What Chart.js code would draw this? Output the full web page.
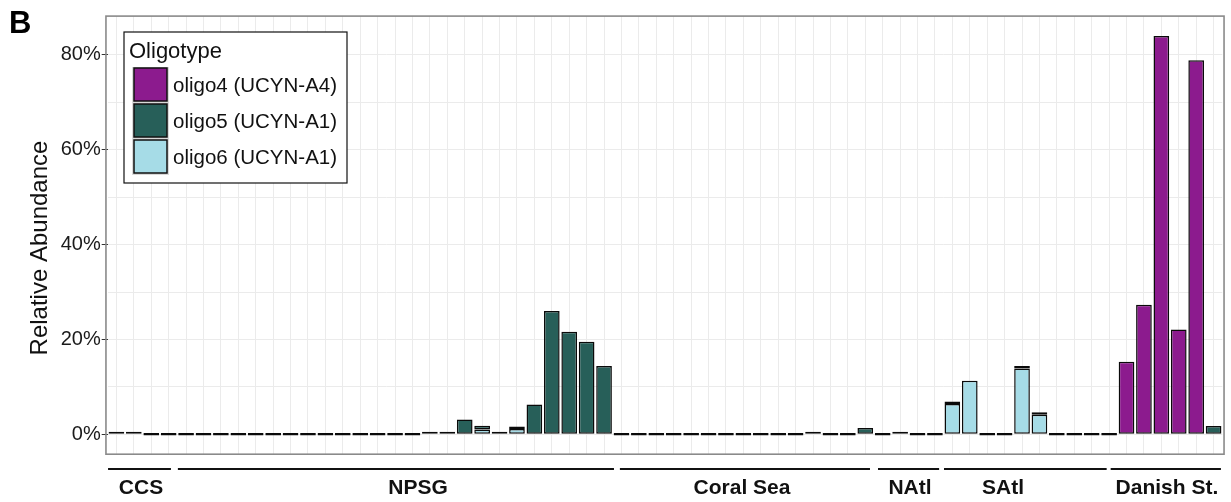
<!DOCTYPE html>
<html>
<head>
<meta charset="utf-8">
<script src="https://cdn.jsdelivr.net/npm/chart.js@4.4.1/dist/chart.umd.min.js"></script>
<style>
  html, body { margin: 0; padding: 0; background: #ffffff; }
  #wrap { width: 1231px; height: 502px; position: relative; }
</style>
</head>
<body>
<div id="wrap"><canvas id="c" width="1231" height="502"></canvas></div>
<script>
// ---------- DATA ----------
const categories = [
  'CCS-1','CCS-2','CCS-3','CCS-4',
  'NPSG-1','NPSG-2','NPSG-3','NPSG-4','NPSG-5','NPSG-6','NPSG-7','NPSG-8','NPSG-9','NPSG-10',
  'NPSG-11','NPSG-12','NPSG-13','NPSG-14','NPSG-15','NPSG-16','NPSG-17','NPSG-18','NPSG-19','NPSG-20',
  'NPSG-21','NPSG-22','NPSG-23','NPSG-24','NPSG-25',
  'CS-1','CS-2','CS-3','CS-4','CS-5','CS-6','CS-7','CS-8','CS-9','CS-10','CS-11','CS-12','CS-13','CS-14','CS-15',
  'NAtl-1','NAtl-2','NAtl-3','NAtl-4',
  'SAtl-1','SAtl-2','SAtl-3','SAtl-4','SAtl-5','SAtl-6','SAtl-7','SAtl-8','SAtl-9',
  'DS-1','DS-2','DS-3','DS-4','DS-5','DS-6','DS-7'
];

// Relative abundance (%) per sample
const oligo4 = [
  0,0,0,0,
  0,0,0,0,0,0,0,0,0,0,0,0,0,0,0,0,0,0,0,0,0,0,0,0,0,
  0,0,0,0,0,0,0,0,0,0,0,0,0,0,0,
  0,0,0,0,
  0,0,0,0,0,0,0,0,0,
  0,15.3,27.3,84.0,22.1,78.9,0
];
const oligo5 = [
  0.5,0.15,0,0,
  0,0,0,0,0,0,0,0,0,0,0,0,0,0,0.2,0.5,3.1,0.8,0.4,0.3,6.3,26.0,21.6,19.5,14.4,
  0,0,0,0,0,0,0,0,0,0,0,0.5,0,0,1.3,
  0,0.5,0,0,
  0.2,0,0,0,0.3,0.3,0,0,0,
  0,0,0,0,0,0,1.75
];
const oligo6 = [
  0,0,0,0,
  0,0,0,0,0,0,0,0,0,0,0,0,0,0,0,0,0,1.0,0,1.1,0,0,0,0,0,
  0,0,0,0,0,0,0,0,0,0,0,0,0,0,0,
  0,0,0,0,
  6.4,11.3,0,0,13.9,4.1,0,0,0,
  0,0,0,0,0,0,0
];

const seriesNames = ['oligo4 (UCYN-A4)', 'oligo5 (UCYN-A1)', 'oligo6 (UCYN-A1)'];
const yTickValues = [0, 20, 40, 60, 80];
const groupNames = ['CCS', 'NPSG', 'Coral Sea', 'NAtl', 'SAtl', 'Danish St.'];

// ---------- STYLE / LAYOUT ----------
const COLORS = { oligo4: '#8C1B8E', oligo5: '#275F59', oligo6: '#A6DCE7' };
const FONT = '"Liberation Sans", Arial, Helvetica, sans-serif';
// group annotation layout in category units (0-based index space)
const groupLayout = [
  { from: -0.48, to: 3.13, label: 1.41 },
  { from: 3.53, to: 28.57, label: 17.32 },
  { from: 28.91, to: 43.27, label: 35.92 },
  { from: 43.73, to: 47.24, label: 45.57 },
  { from: 47.52, to: 56.86, label: 50.91 },
  { from: 57.09, to: 63.42, label: 60.32 }
];

const totals = categories.map((_, i) => oligo4[i] + oligo5[i] + oligo6[i]);
// zero segments are not drawn, except one empty outline per all-zero sample
const prep = (arr, keepZero) => arr.map((v, i) => (v === 0 && (totals[i] > 0 || !keepZero)) ? null : v);

const decor = {
  id: 'decor',
  beforeDraw(chart) {
    const ctx = chart.ctx;
    ctx.save();
    ctx.fillStyle = '#ffffff';
    ctx.fillRect(0, 0, chart.width, chart.height);
    ctx.restore();
  },
  afterDraw(chart) {
    const ctx = chart.ctx;
    const ca = chart.chartArea;
    const x = chart.scales.x;
    const step = x.getPixelForValue(1) - x.getPixelForValue(0);
    ctx.save();
    // panel border
    ctx.strokeStyle = '#8a8a8a';
    ctx.lineWidth = 1.6;
    ctx.strokeRect(ca.left - 0.1 * step, ca.top, (ca.right - ca.left) + 0.2 * step, ca.bottom - ca.top);

    // group lines and labels
    ctx.strokeStyle = '#111';
    ctx.lineWidth = 2;
    ctx.fillStyle = '#111';
    ctx.font = 'bold 21px ' + FONT;
    ctx.textAlign = 'center';
    ctx.textBaseline = 'middle';
    groupNames.forEach((name, i) => {
      const g = groupLayout[i];
      const x1 = x.getPixelForValue(g.from), x2 = x.getPixelForValue(g.to);
      ctx.beginPath();
      ctx.moveTo(x1, 469);
      ctx.lineTo(x2, 469);
      ctx.stroke();
      ctx.fillText(name, x.getPixelForValue(g.label), 488);
    });

    // legend
    ctx.fillStyle = '#ffffff';
    ctx.fillRect(124, 32, 223, 151);
    ctx.strokeStyle = '#111';
    ctx.lineWidth = 1.2;
    ctx.strokeRect(124, 32, 223, 151);
    ctx.fillStyle = '#111';
    ctx.textAlign = 'left';
    ctx.font = '22px ' + FONT;
    ctx.fillText('Oligotype', 129, 52);
    const keyCols = [COLORS.oligo4, COLORS.oligo5, COLORS.oligo6];
    const keyY = [68, 104, 140];
    ctx.font = '20.5px ' + FONT;
    seriesNames.forEach((n, i) => {
      ctx.fillStyle = '#d9d9d9';
      ctx.fillRect(132, keyY[i] - 1, 37, 36);
      ctx.fillStyle = keyCols[i];
      ctx.fillRect(134, keyY[i], 33, 33);
      ctx.strokeStyle = '#111';
      ctx.lineWidth = 1.5;
      ctx.strokeRect(134, keyY[i], 33, 33);
      ctx.fillStyle = '#111';
      ctx.fillText(n, 173, keyY[i] + 18);
    });

    // y title
    ctx.save();
    ctx.translate(40, 248);
    ctx.rotate(-Math.PI / 2);
    ctx.textAlign = 'center';
    ctx.textBaseline = 'middle';
    ctx.font = '24px ' + FONT;
    ctx.fillStyle = '#111';
    ctx.fillText('Relative Abundance', 0, 0);
    ctx.restore();

    // panel letter
    ctx.font = 'bold 31px ' + FONT;
    ctx.textAlign = 'left';
    ctx.textBaseline = 'alphabetic';
    ctx.fillStyle = '#000';
    ctx.fillText('B', 9, 33);
    ctx.restore();
  }
};

const barCommon = {
  borderColor: '#0a0a0a',
  borderWidth: 1.5,
  borderSkipped: false,
  minBarLength: 2.5,
  barPercentage: 0.9,
  categoryPercentage: 1.0,
  stack: 's'
};

new Chart(document.getElementById('c'), {
  type: 'bar',
  data: {
    labels: categories,
    datasets: [
      Object.assign({ label: seriesNames[2], data: prep(oligo6, false), backgroundColor: COLORS.oligo6 }, barCommon),
      Object.assign({ label: seriesNames[1], data: prep(oligo5, true), backgroundColor: COLORS.oligo5 }, barCommon),
      Object.assign({ label: seriesNames[0], data: prep(oligo4, false), backgroundColor: COLORS.oligo4 }, barCommon)
    ]
  },
  options: {
    responsive: false,
    animation: false,
    layout: { padding: { left: 0, right: 8.7, top: 16.1, bottom: 0 } },
    plugins: { legend: { display: false }, tooltip: { enabled: false } },
    scales: {
      x: {
        type: 'category',
        stacked: true,
        offset: true,
        grid: { offset: false, color: '#ebebeb', lineWidth: 1, drawTicks: false },
        border: { display: false },
        ticks: { display: false, autoSkip: false },
        afterFit: s => { s.height = 47.8; }
      },
      y: {
        stacked: true,
        min: -4.2,
        max: 88.2,
        afterBuildTicks: s => {
          const t = [];
          yTickValues.forEach((v, i) => {
            t.push({ value: v });
            if (i < yTickValues.length - 1) t.push({ value: v + 10 });
          });
          s.ticks = t;
        },
        grid: {
          color: '#ebebeb',
          lineWidth: 1,
          tickLength: 6,
          tickColor: c => (c.tick && yTickValues.includes(c.tick.value)) ? '#333333' : 'rgba(0,0,0,0)'
        },
        border: { display: false },
        ticks: {
          autoSkip: false,
          padding: 1,
          color: '#1a1a1a',
          font: { family: FONT, size: 20 },
          callback: v => yTickValues.includes(v) ? v + '%' : ''
        },
        afterFit: s => { s.width = 107.7; }
      }
    }
  },
  plugins: [decor]
});
</script>
</body>
</html>
